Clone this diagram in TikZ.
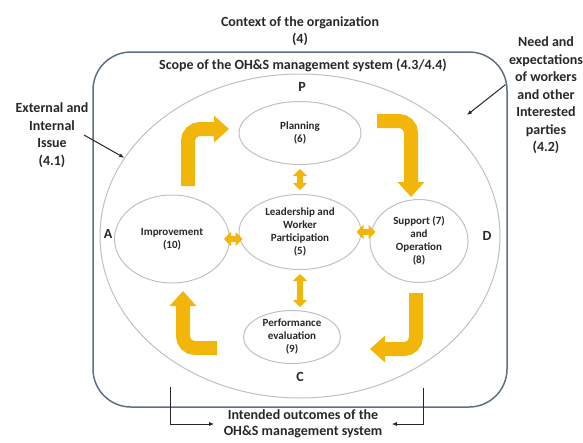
\documentclass[tikz,border=0pt]{standalone}
\usepackage{fontspec}
\setmainfont{Carlito}
\usetikzlibrary{shapes.geometric,arrows.meta}

\definecolor{cyclegold}{RGB}{242,181,10}
\definecolor{framegray}{RGB}{95,112,130}
\definecolor{ringgray}{RGB}{192,192,192}
\definecolor{labelgray}{RGB}{40,40,40}

\tikzset{
  ring/.style={ellipse, draw=ringgray, line width=1pt, inner sep=0pt},
  clause/.style={ring, align=center, text=labelgray, font=\bfseries\fontsize{11}{13}\selectfont},
  outer/.style={align=center, text=labelgray, font=\bfseries\fontsize{14}{17.5}\selectfont},
  letter/.style={text=labelgray, font=\bfseries\fontsize{14}{15}\selectfont},
  cyclearrow/.style={draw=cyclegold, line width=14pt, rounded corners=12pt, -{Triangle[length=15pt,width=26pt]}},
  linkarrow/.style={draw=cyclegold, line width=6pt, {Triangle[length=7pt,width=14pt]}-{Triangle[length=7pt,width=14pt]}},
  pointer/.style={draw=black!85, line width=1pt, -{Latex[length=5pt,width=4pt]}}
}

\begin{document}
\begin{tikzpicture}[x=1pt, y=-1pt]
\useasboundingbox (0,0) rectangle (583,442);

\node[draw=framegray, line width=1.5pt, rounded corners=38pt, minimum width=414pt, minimum height=355pt] (org) at (300,229.5) {};
\node[ring, minimum width=400pt, minimum height=324pt] (scope) at (300,236) {};

\node[outer] (ctx) at (300,31) {Context of the organization\\(4)};
\node[outer] (scopetxt) at (303,65) {Scope of the OH\&S management system (4.3/4.4)};
\node[outer] (ext) at (52,135) {External and\\Internal\\Issue\\(4.1)};
\node[outer] (need) at (546,95.5) {Need and\\expectations\\of workers\\and other\\Interested\\parties\\(4.2)};
\node[outer, font=\bfseries\fontsize{14}{16}\selectfont] (outc) at (303,424) {Intended outcomes of the\\OH\&S management system};

\node[letter] (p) at (302,87) {P};
\node[letter] (a) at (108,234) {A};
\node[letter] (d) at (487,236) {D};
\node[letter] (c) at (300,377) {C};

\node[clause, minimum width=122pt, minimum height=63pt] (plan) at (300,133) {Planning\\(6)};
\node[clause, minimum width=122pt, minimum height=75pt] (lead) at (300,232) {Leadership and\\Worker\\Participation\\(5)};
\node[clause, minimum width=115pt, minimum height=88pt] (impr) at (172,239) {Improvement\\(10)};
\node[clause, minimum width=98pt, minimum height=83pt] (supp) at (419,241) {Support (7)\\and\\Operation\\(8)};
\node[clause, minimum width=97pt, minimum height=53pt] (perf) at (292,337) {Performance\\evaluation\\(9)};

\draw[linkarrow, shorten <=4pt, shorten >=4pt] (plan.south) -- (lead.north);
\draw[linkarrow, shorten <=4pt, shorten >=3pt] (lead.south) -- (lead.south |- perf.north);
\draw[linkarrow, shorten <=-6pt, shorten >=-4pt] (impr.east) -- (lead.west |- impr.east);
\draw[linkarrow, shorten <=-5pt, shorten >=-6pt] (lead.east) -- (supp.west |- lead.east);

\draw[cyclearrow] (188,186) |- (229,129);
\draw[cyclearrow] (377,121) -| (411,197);
\draw[cyclearrow] (416,293) |- (370,349);
\draw[cyclearrow] (217,348) -| (183,291);

\draw[pointer] ([xshift=-8pt]ext.east) -- (scope.156);
\draw[pointer] (need.165) -- (467,115);
\draw[pointer] (170,387) |- ([xshift=-6pt]outc.west);
\draw[pointer] (423,388) |- ([xshift=6pt]outc.east);
\end{tikzpicture}
\end{document}
